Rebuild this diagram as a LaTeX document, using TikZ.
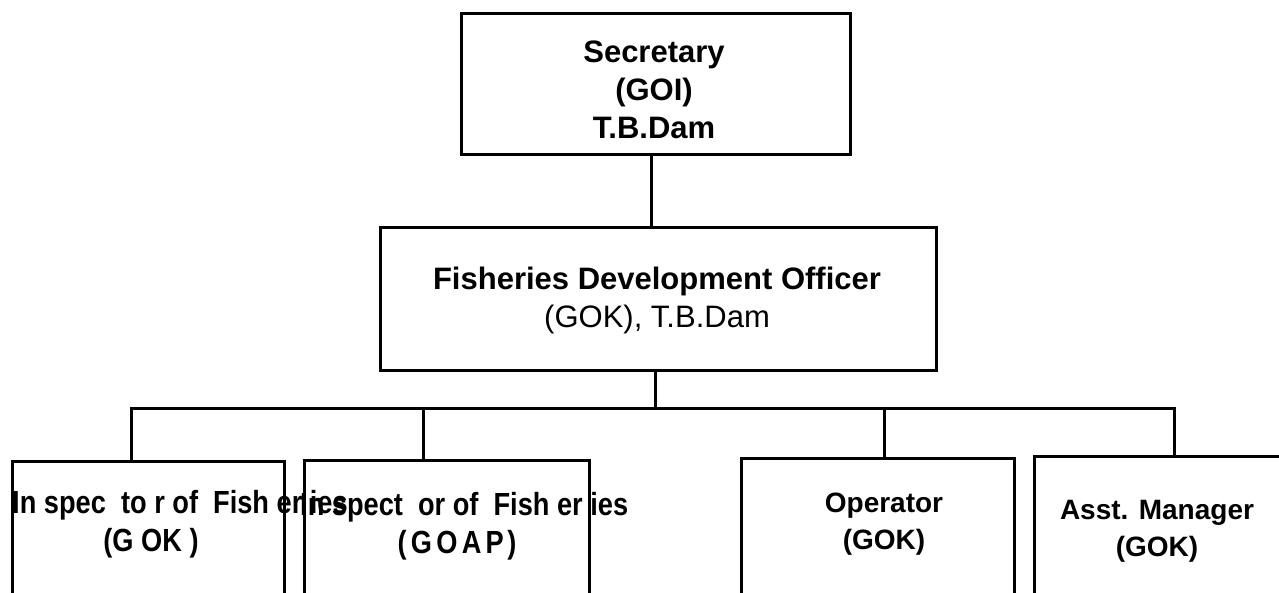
\documentclass[tikz,border=0pt]{standalone}
\usepackage{graphicx}
\usepackage{fontspec}
\setmainfont{Liberation Sans}
\begin{document}
\begin{tikzpicture}[x=1pt,y=-1pt,
  box/.style={draw=black, line width=3pt, rectangle, inner sep=0pt, anchor=north west},
  link/.style={draw=black, line width=3pt},
  hd/.style={font=\fontsize{31}{38}\selectfont\bfseries, align=center, inner sep=0pt},
  sub/.style={font=\fontsize{28}{37}\selectfont\bfseries, align=center, inner sep=0pt},
  narrow/.style={font=\fontsize{32}{37}\selectfont\bfseries, inner sep=0pt}]
\useasboundingbox (0,0) rectangle (1279,593);
\clip (0,0) rectangle (1279,593);

% boxes (the bottom row runs off the lower edge)
\node[box, minimum width=389pt, minimum height=141pt] (sec) at (460,12) {};
\node[box, minimum width=556pt, minimum height=143pt] (fdo) at (379,226) {};
\node[box, minimum width=272pt, minimum height=200pt] (b1) at (11,460) {};
\node[box, minimum width=285pt, minimum height=200pt] (b2) at (303,459) {};
\node[box, minimum width=273pt, minimum height=200pt] (b3) at (740,457) {};
\node[box, minimum width=300pt, minimum height=200pt] (b4) at (1033,455) {};

% connectors
\coordinate (bus) at (654,408);
\draw[link] ([xshift=-5pt]sec.south) -- ([xshift=-5pt]sec.south |- fdo.north);
\draw[link] ([xshift=-3pt]fdo.south) -- ([xshift=-3pt]fdo.south |- bus);
\draw[link] ([xshift=-17pt]b1.north) |- ([xshift=-10pt]b4.north |- bus) -- ([xshift=-10pt]b4.north);
\draw[link] ([xshift=-23.5pt]b2.north) -- ([xshift=-23.5pt]b2.north |- bus);
\draw[link] ([xshift=6.5pt]b3.north) -- ([xshift=6.5pt]b3.north |- bus);

% labels
\node[hd] (secT) at (654,90) {Secretary\\(GOI)\\T.B.Dam};
\node[hd] (fdoT) at (657,300) {Fisheries Development Officer\\\mdseries (GOK), T.B.Dam};
\node[narrow, anchor=west] (t1a) at (12,505) {\scalebox{0.85}[1]{In~spec~~to~r of~~Fish~er~ies}};
\node[narrow] (t1b) at (151,543) {\scalebox{0.85}[1]{(G~OK~)}};
\node[narrow, anchor=west] (t2a) at (300,507) {\scalebox{0.85}[1]{In~spect~~or of~~Fish~er~ies}};
\node[narrow] (t2b) at (457,545) {\scalebox{0.85}[1]{(\kern5pt G\kern5pt O\kern5pt A\kern5pt P\kern4pt)}};
\node[sub] (t3) at (884,524) {Operator\\(GOK)};
\node[sub] (t4) at (1157,531) {Asst. Manager\\(GOK)};
\end{tikzpicture}
\end{document}
